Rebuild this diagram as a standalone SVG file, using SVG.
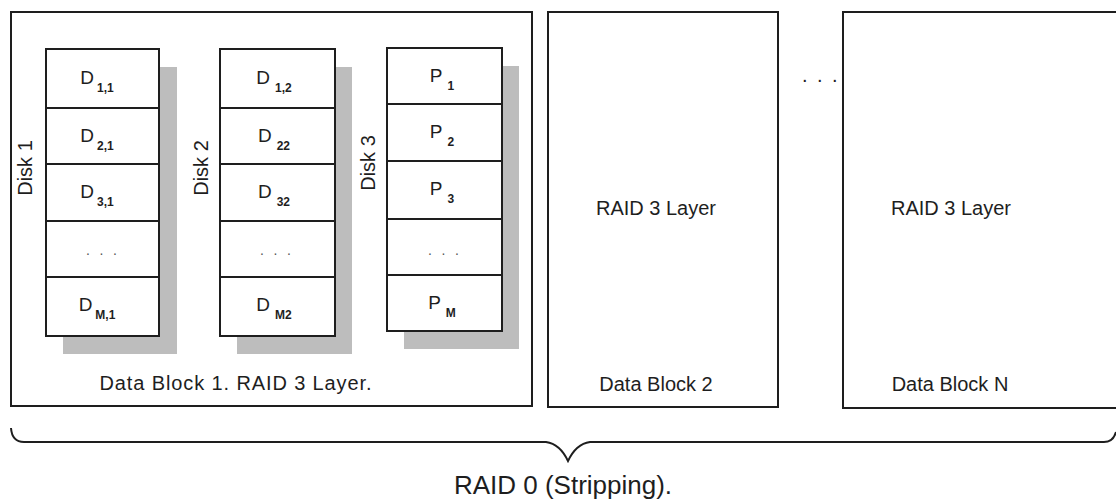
<svg xmlns="http://www.w3.org/2000/svg" width="1116" height="499" viewBox="0 0 1116 499">
  <style>
    .box { fill: #ffffff; stroke: #1e1e1e; stroke-width: 2; }
    .cell { fill: #ffffff; stroke: #1e1e1e; stroke-width: 2; }
    .shadow { fill: #bdbdbd; stroke: none; }
    .lbl { font-family: "Liberation Sans", Arial, sans-serif; font-size: 20px; fill: #1e1e1e; }
    .cap { font-family: "Liberation Sans", Arial, sans-serif; font-size: 19px; fill: #1e1e1e; text-anchor: middle; }
    .sub { font-size: 12px; font-weight: bold; }
    .mid { text-anchor: middle; }
    .gap { font-family: "Liberation Sans", Arial, sans-serif; font-size: 14px; fill: #555555; letter-spacing: 9.6px; }
    .brace { fill: none; stroke: #1e1e1e; stroke-width: 2; }
  </style>

  <!-- Data block 1: three disks of a RAID 3 layer -->
  <g id="block1">
    <rect class="box" x="11" y="12" width="521" height="394"/>
    <text class="lbl" x="235.5" y="390" text-anchor="middle" textLength="272" lengthAdjust="spacing">Data Block 1. RAID 3 Layer.</text>
  </g>

  <g id="disk1">
    <rect class="shadow" x="63" y="67" width="114" height="287"/>
    <rect class="cell" x="46" y="49" width="113" height="59"/>
    <rect class="cell" x="46" y="108" width="113" height="56"/>
    <rect class="cell" x="46" y="164" width="113" height="57"/>
    <rect class="cell" x="46" y="221" width="113" height="56"/>
    <rect class="cell" x="46" y="277" width="113" height="59"/>
    <text class="cap" x="97" y="84">D<tspan class="sub" dx="3" dy="8">1,1</tspan></text>
    <text class="cap" x="97" y="142">D<tspan class="sub" dx="3" dy="8">2,1</tspan></text>
    <text class="cap" x="97" y="198">D<tspan class="sub" dx="3" dy="8">3,1</tspan></text>
    <text class="gap" x="86" y="255">...</text>
    <text class="cap" x="97" y="311">D<tspan class="sub" dx="3" dy="8">M,1</tspan></text>
    <text class="lbl mid" transform="translate(32,168) rotate(-90)">Disk 1</text>
  </g>

  <g id="disk2">
    <rect class="shadow" x="237" y="67" width="115" height="287"/>
    <rect class="cell" x="220" y="49" width="115" height="59"/>
    <rect class="cell" x="220" y="108" width="115" height="56"/>
    <rect class="cell" x="220" y="164" width="115" height="57"/>
    <rect class="cell" x="220" y="221" width="115" height="56"/>
    <rect class="cell" x="220" y="277" width="115" height="59"/>
    <text class="cap" x="274" y="84">D<tspan class="sub" dx="5" dy="8">1,2</tspan></text>
    <text class="cap" x="274" y="142">D<tspan class="sub" dx="5" dy="8">22</tspan></text>
    <text class="cap" x="274" y="198">D<tspan class="sub" dx="5" dy="8">32</tspan></text>
    <text class="gap" x="260" y="255">...</text>
    <text class="cap" x="274" y="311">D<tspan class="sub" dx="5" dy="8">M2</tspan></text>
    <text class="lbl mid" transform="translate(208,168) rotate(-90)">Disk 2</text>
  </g>

  <g id="disk3">
    <rect class="shadow" x="404" y="66" width="115" height="283"/>
    <rect class="cell" x="387" y="48" width="115" height="56"/>
    <rect class="cell" x="387" y="104" width="115" height="57"/>
    <rect class="cell" x="387" y="161" width="115" height="58"/>
    <rect class="cell" x="387" y="219" width="115" height="56"/>
    <rect class="cell" x="387" y="275" width="115" height="56"/>
    <text class="cap" x="442" y="82">P<tspan class="sub" dx="5" dy="8">1</tspan></text>
    <text class="cap" x="442" y="138">P<tspan class="sub" dx="5" dy="8">2</tspan></text>
    <text class="cap" x="442" y="195">P<tspan class="sub" dx="5" dy="8">3</tspan></text>
    <text class="gap" x="428" y="255">...</text>
    <text class="cap" x="442" y="309">P<tspan class="sub" dx="5" dy="8">M</tspan></text>
    <text class="lbl mid" transform="translate(375,163) rotate(-90)">Disk 3</text>
  </g>

  <!-- Data block 2 -->
  <g id="block2">
    <rect class="box" x="548" y="12" width="230" height="395"/>
    <text class="lbl mid" x="656" y="215">RAID 3 Layer</text>
    <text class="lbl mid" x="656" y="391">Data Block 2</text>
  </g>

  <!-- ellipsis between blocks -->
  <text id="more" class="lbl" x="802" y="81.5" style="letter-spacing:9.4px">...</text>

  <!-- Data block N, running off the right edge -->
  <g id="blockN">
    <rect class="box" x="843" y="12" width="290" height="396"/>
    <text class="lbl mid" x="951" y="215">RAID 3 Layer</text>
    <text class="lbl mid" x="950" y="391">Data Block N</text>
  </g>

  <!-- brace grouping all blocks into the striped set -->
  <g id="connectors">
    <path class="brace" d="M 11 428 Q 12 442 24 442 L 546 442 Q 560 444 568 461 Q 576 444 590 442 L 1104 442 Q 1113 442 1116 432"/>
  </g>
  <text id="raid0" class="lbl mid" x="563" y="494" style="font-size:26px">RAID 0 (Stripping).</text>
</svg>
